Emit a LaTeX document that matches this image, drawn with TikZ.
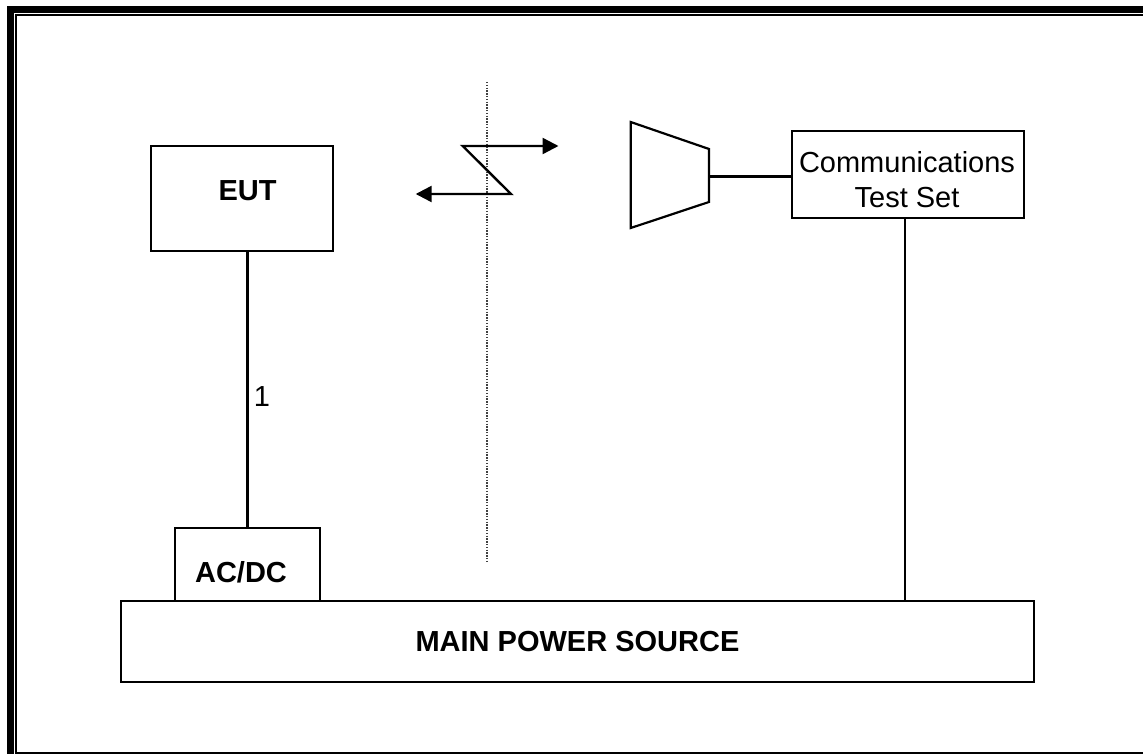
\documentclass[tikz,border=0pt]{standalone}
\usepackage{fontspec}
\setmainfont{Liberation Sans}
\usetikzlibrary{arrows.meta}
\begin{document}
\begin{tikzpicture}[x=1pt,y=-1pt,
  box/.style={draw=black,line width=2.2pt,rectangle,inner sep=0pt},
  txt/.style={inner sep=0pt,font=\fontsize{29}{35}\selectfont},
  btxt/.style={txt,font=\fontsize{29}{35}\selectfont\bfseries},
  wire/.style={line width=2.2pt},
  bolt/.style={line width=2.4pt,{Triangle[length=16pt,width=16pt]}-{Triangle[length=16pt,width=16pt]}}]
\useasboundingbox (0,0) rectangle (1143,754);
% frame
\draw[line width=7pt] (10.3,760) |- (1150,9.5);
\draw[line width=2pt] (1150,15) -| (15.8,752.7) -- (1150,752.7);
% boxes
\node[box,minimum width=182pt,minimum height=105pt] (eut) at (242,198.5) {};
\node[btxt] (eutt) at (247.5,190.5) {EUT};
\node[box,minimum width=145pt,minimum height=73pt] (acdc) at (247.5,564.5) {};
\node[btxt] (acdct) at (241,572.5) {AC/DC};
\node[box,minimum width=913pt,minimum height=81pt] (main) at (577.5,641.5) {};
\node[btxt] (maint) at (577.5,641.5) {MAIN POWER SOURCE};
\node[box,minimum width=232pt,minimum height=87pt] (comm) at (908,174.5) {};
\node[txt,align=center] (commt) at (907,180) {Communications\\Test Set};
% horn antenna
\coordinate (h1) at (630.7,122);
\coordinate (h2) at (709,149);
\coordinate (h3) at (709,202);
\coordinate (h4) at (630.7,228);
\coordinate (hornr) at (709,176.5);
\draw[line width=2.2pt,line join=miter] (h1) -- (h2) -- (h3) -- (h4) -- cycle;
\draw[wire] (hornr) -- (hornr -| comm.west);
% wires
\draw[wire] (eut.south -| acdc.north) -- (acdc.north);
\node[txt] (one) at (262,397) {1};
\coordinate (cs) at (905,0);
\draw[wire] (cs |- comm.south) -- (cs |- main.north);
% dotted separation
\coordinate (d1) at (486.7,82);
\coordinate (d2) at (486.7,562);
\draw[line width=1.6pt,black!75,dash pattern=on 1.4pt off 1.4pt] (d1) -- (d2);
% radio link
\coordinate (z1) at (462.7,146);
\coordinate (z2) at (511,194);
\coordinate (t1) at (558.5,146);
\coordinate (t2) at (415.7,194);
\draw[bolt] (t2) -- (z2) -- (z1) -- (t1);
\end{tikzpicture}
\end{document}
